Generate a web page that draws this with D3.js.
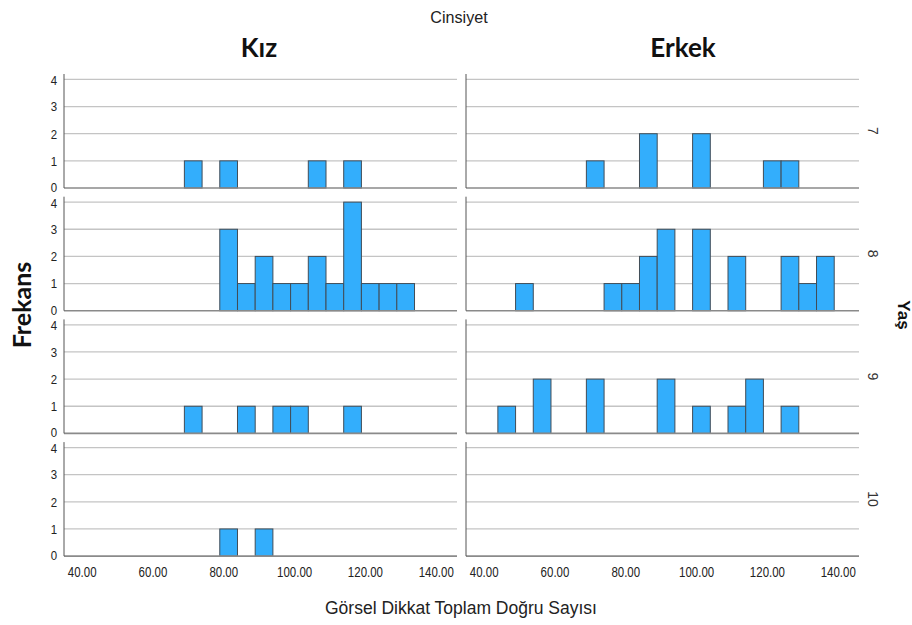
<!DOCTYPE html>
<html>
<head>
<meta charset="utf-8">
<script src="https://d3js.org/d3.v7.min.js"></script>
<style>
  body { margin: 0; background: #fff; }
  svg { display: block; }
</style>
</head>
<body>
<div id="chart"></div>
<script>
// Facet labels
const genders = ["Kız", "Erkek"];
const ages = ["7", "8", "9", "10"];

// Histogram bins: [bin start, count], bin width 5
const kiz7 = [[70, 1], [80, 1], [105, 1], [115, 1]];
const kiz8 = [[80, 3], [85, 1], [90, 2], [95, 1], [100, 1], [105, 2], [110, 1], [115, 4], [120, 1], [125, 1], [130, 1]];
const kiz9 = [[70, 1], [85, 1], [95, 1], [100, 1], [115, 1]];
const kiz10 = [[80, 1], [90, 1]];
const erkek7 = [[70, 1], [85, 2], [100, 2], [120, 1], [125, 1]];
const erkek8 = [[50, 1], [75, 1], [80, 1], [85, 2], [90, 3], [100, 3], [110, 2], [125, 2], [130, 1], [135, 2]];
const erkek9 = [[45, 1], [55, 2], [70, 2], [90, 2], [100, 1], [110, 1], [115, 2], [125, 1]];
const erkek10 = [];

const binWidth = 5;
const xTicks = [40, 60, 80, 100, 120, 140];
const yTicks = [0, 1, 2, 3, 4];

const panels = [
  [kiz7, erkek7],
  [kiz8, erkek8],
  [kiz9, erkek9],
  [kiz10, erkek10]
];

const width = 912, height = 625;
const colX = [64, 466];
const panelW = 393;
const panelH = 114;
const firstBase = 188;
const rowStep = 122.7;

const svg = d3.select("#chart").append("svg")
  .attr("width", width)
  .attr("height", height);

const x = d3.scaleLinear().domain([36, 147]).range([0, panelW]);
const y = d3.scaleLinear().domain([0, 4.2]).range([panelH, 0]);

// narrow text helper (SPSS uses a condensed font)
const narrowText = (g, px, py, str, size, sx, anchor) =>
  g.append("text")
    .attr("transform", `translate(${px},${py}) scale(${sx},1)`)
    .attr("text-anchor", anchor)
    .style("font-family", "'Liberation Sans', Arial, sans-serif")
    .style("font-size", size + "px")
    .style("fill", "#222")
    .text(str);

panels.forEach((row, r) => {
  const base = firstBase + r * rowStep;
  const top = base - panelH;
  row.forEach((bins, c) => {
    const g = svg.append("g").attr("transform", `translate(${colX[c]},${top})`);

    // grid lines
    g.selectAll(".grid")
      .data(yTicks.filter(t => t > 0))
      .enter().append("line")
      .attr("x1", 0).attr("x2", panelW)
      .attr("y1", d => y(d)).attr("y2", d => y(d))
      .attr("stroke", "#c4c4c4")
      .attr("stroke-width", 1.3);

    // bars
    g.selectAll(".bar")
      .data(bins)
      .enter().append("rect")
      .attr("x", d => x(d[0]))
      .attr("width", d => x(d[0] + binWidth) - x(d[0]))
      .attr("y", d => y(d[1]))
      .attr("height", d => y(0) - y(d[1]))
      .attr("fill", "#33aefc")
      .attr("stroke", "#414d58")
      .attr("stroke-width", 1);

    // baseline
    g.append("line")
      .attr("x1", 0).attr("x2", panelW)
      .attr("y1", y(0)).attr("y2", y(0))
      .attr("stroke", "#8a8a8a")
      .attr("stroke-width", 1.6);

    // y axis line
    g.append("line")
      .attr("x1", 0).attr("x2", 0)
      .attr("y1", 0).attr("y2", y(0))
      .attr("stroke", "#555")
      .attr("stroke-width", 1);

    // y tick labels only on the left column (0 nudged up, 4 down so they don't collide)
    if (c === 0) {
      yTicks.forEach(t => narrowText(g, -7, y(t) + (t === 0 ? 4 : t === 4 ? 5.5 : 4.8), t, 13, 0.88, "end"));
    }

    // x tick labels only on bottom row
    if (r === panels.length - 1) {
      xTicks.forEach(t => narrowText(g, x(t) + 4, panelH + 21, d3.format(".2f")(t), 14, 0.82, "middle"));
    }
  });

  // row (age) label on the right
  svg.append("text")
    .attr("transform", `translate(868,${top + panelH / 2}) rotate(90)`)
    .attr("text-anchor", "middle")
    .style("font-family", "'Liberation Sans', Arial, sans-serif")
    .style("font-size", "14px")
    .style("fill", "#333")
    .text(ages[r]);
});

// column headers
genders.forEach((gname, c) => {
  svg.append("text")
    .attr("x", c === 0 ? 259 : 683)
    .attr("y", 57)
    .attr("text-anchor", "middle")
    .style("font-family", "Lato, sans-serif")
    .style("font-weight", 700)
    .style("font-size", "26px")
    .style("fill", "#111")
    .text(gname);
});

// facet variable title
narrowText(svg, 459, 23, "Cinsiyet", 17, 0.95, "middle");

// y axis title
svg.append("text")
  .attr("transform", "translate(31,305) rotate(-90)")
  .attr("text-anchor", "middle")
  .style("font-family", "Lato, sans-serif")
  .style("font-weight", 700)
  .style("font-size", "25px")
  .style("fill", "#111")
  .text("Frekans");

// row facet title
svg.append("text")
  .attr("transform", "translate(898,315) rotate(90)")
  .attr("text-anchor", "middle")
  .style("font-family", "'Liberation Sans', Arial, sans-serif")
  .style("font-weight", 700)
  .style("font-size", "17px")
  .style("fill", "#111")
  .text("Yaş");

// x axis title
svg.append("text")
  .attr("x", 461)
  .attr("y", 614)
  .attr("text-anchor", "middle")
  .style("font-family", "'Liberation Sans', Arial, sans-serif")
  .style("font-size", "17.5px")
  .style("fill", "#222")
  .text("Görsel Dikkat Toplam Doğru Sayısı");
</script>
</body>
</html>
